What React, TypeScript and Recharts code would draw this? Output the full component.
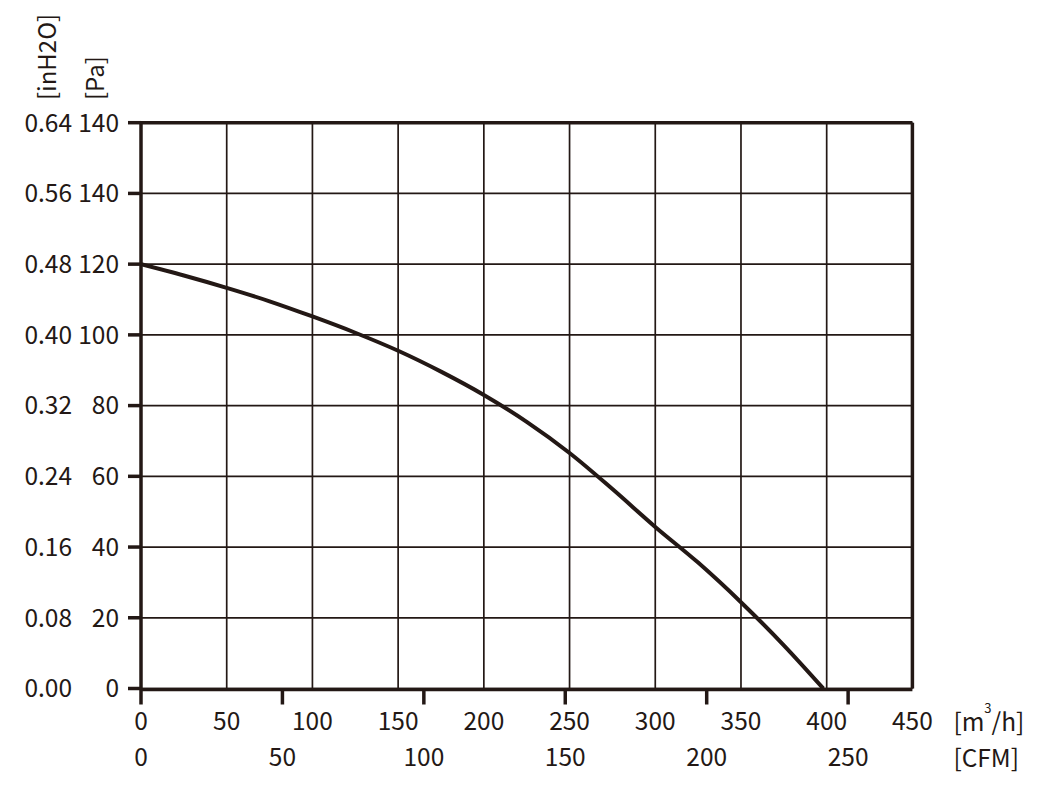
import React from 'react';
import { LineChart, Line, XAxis, YAxis, CartesianGrid, ReferenceLine } from 'recharts';

// airflow [m3/h] vs static pressure [Pa]
const flow = [0, 25, 50, 75, 100, 125, 150, 175, 200, 225, 250, 275, 300, 325, 350, 375, 398];
const pressure = [120, 116.8, 113.3, 109.5, 105.2, 100.6, 95.5, 89.6, 83.0, 75.4, 66.6, 56.4, 45.7, 35.6, 24.4, 12.2, 0];

const flowTicks = [0, 50, 100, 150, 200, 250, 300, 350, 400, 450];
const cfmTicks = [0, 50, 100, 150, 200, 250];
const paTicks = [0, 20, 40, 60, 80, 100, 120, 140, 160];
const paLabels = ['0', '20', '40', '60', '80', '100', '120', '140', '140'];
const inLabels = ['0.00', '0.08', '0.16', '0.24', '0.32', '0.40', '0.48', '0.56', '0.64'];

// m3/h per CFM as drawn on the secondary scale
const CFM_SCALE = 1.65;

const INK = '#231815';
const FONT = '"Noto Sans CJK SC", "Noto Sans", sans-serif';

const data = flow.map((f, i) => ({ flow: f, cfm: f / CFM_SCALE, pa: pressure[i] }));

const YTick = (props: any) => {
  const { x, y, index } = props;
  return (
    <g>
      <text x={x} y={y} dy="0.36em" textAnchor="end" fontSize={24.5} fontFamily={FONT} fill={INK}>
        {paLabels[index]}
      </text>
      <text x={x - 47} y={y} dy="0.36em" textAnchor="end" fontSize={24.5} fontFamily={FONT} fill={INK}>
        {inLabels[index]}
      </text>
    </g>
  );
};

const YTitles = (props: any) => {
  const { viewBox } = props;
  const right = viewBox.x + viewBox.width;
  const bottom = viewBox.y - 22.7;
  return (
    <g fontSize={24} fontFamily={FONT} fill={INK}>
      <text x={right - 85} y={bottom} transform={`rotate(-90, ${right - 85}, ${bottom})`}>[inH2O]</text>
      <text x={right - 37} y={bottom} transform={`rotate(-90, ${right - 37}, ${bottom})`}>[Pa]</text>
    </g>
  );
};

const FlowUnit = (props: any) => {
  const { viewBox } = props;
  const x = viewBox.x + viewBox.width + 41;
  return (
    <text x={x} y={viewBox.y + 42} fontSize={24.5} fontFamily={FONT} fill={INK}>
      <tspan>[m</tspan>
      <tspan fontSize={13} dy={-18}>3</tspan>
      <tspan dy={18}>/h]</tspan>
    </text>
  );
};

const CfmUnit = (props: any) => {
  const { viewBox } = props;
  const x = viewBox.x + viewBox.width + 41;
  return (
    <text x={x} y={viewBox.y + 77} fontSize={24.5} fontFamily={FONT} fill={INK}>
      [CFM]
    </text>
  );
};

export default function App() {
  const tickStyle = { fontSize: 24.5, fontFamily: FONT, fill: INK };
  return (
    <div style={{ position: 'absolute', left: 0, top: 0, background: '#fff' }}>
      <LineChart
        width={1050}
        height={795}
        data={data}
        margin={{ top: 122.7, right: 137.6, bottom: 104.5, left: 0 }}
      >
        <CartesianGrid stroke={INK} strokeWidth={1.7} />
        <XAxis
          dataKey="flow"
          type="number"
          domain={[0, 450]}
          allowDataOverflow
          ticks={flowTicks}
          interval={0}
          height={1}
          axisLine={false}
          tickLine={false}
          tickSize={0}
          tickMargin={24.5}
          tick={tickStyle}
          label={FlowUnit}
        />
        <XAxis
          xAxisId="cfm"
          dataKey="cfm"
          type="number"
          domain={[0, 450 / CFM_SCALE]}
          allowDataOverflow
          ticks={cfmTicks}
          interval={0}
          height={1}
          axisLine={{ stroke: INK, strokeWidth: 3.5 }}
          tickLine={{ stroke: INK, strokeWidth: 3.5 }}
          tickSize={15}
          tickMargin={44.5}
          tick={tickStyle}
          label={CfmUnit}
        />
        <YAxis
          type="number"
          domain={[0, 160]}
          ticks={paTicks}
          interval={0}
          width={141}
          axisLine={{ stroke: INK, strokeWidth: 3.5 }}
          tickLine={{ stroke: INK, strokeWidth: 3.5 }}
          tickSize={13}
          tickMargin={9}
          tick={<YTick />}
          label={YTitles}
        />
        <ReferenceLine y={160} stroke={INK} strokeWidth={3.5} />
        <ReferenceLine x={450} stroke={INK} strokeWidth={3.5} />
        <Line
          type="monotone"
          dataKey="pa"
          stroke={INK}
          strokeWidth={4}
          dot={false}
          isAnimationActive={false}
        />
      </LineChart>
    </div>
  );
}
